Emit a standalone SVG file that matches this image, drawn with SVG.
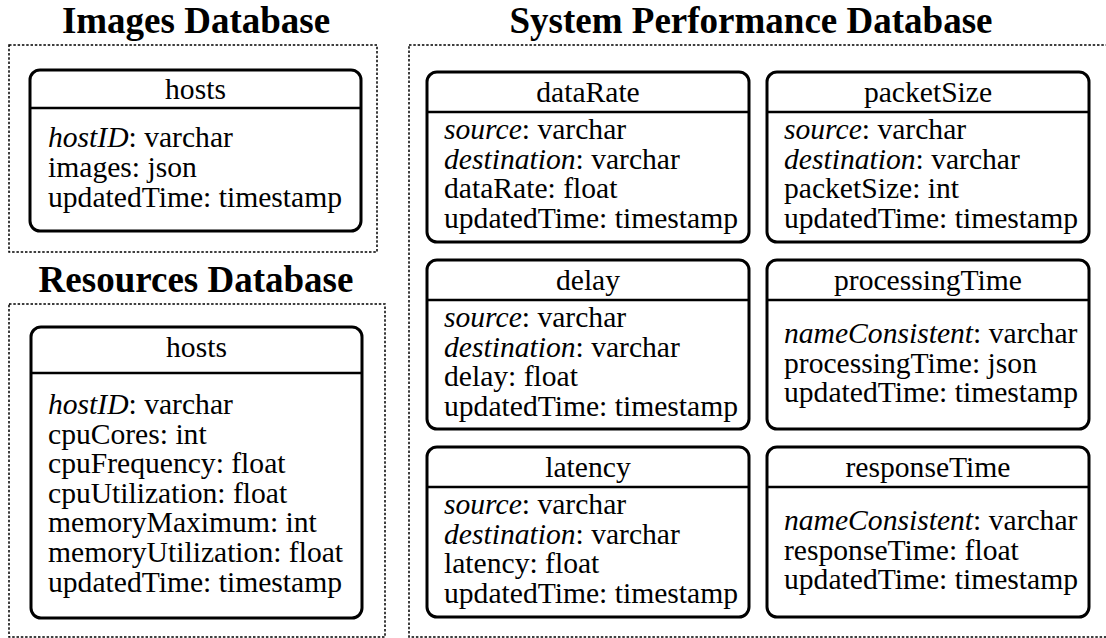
<svg xmlns="http://www.w3.org/2000/svg" width="1106" height="638" viewBox="0 0 1106 638">
  <style>
    .title { font-family: "Liberation Serif", "Times New Roman", serif; font-size: 37px; font-weight: bold; text-anchor: middle; fill: #000; }
    .head { font-family: "Liberation Serif", "Times New Roman", serif; font-size: 29.6px; text-anchor: middle; fill: #000; }
    .row { font-family: "Liberation Serif", "Times New Roman", serif; font-size: 29.6px; fill: #000; }
    .key { font-style: italic; }
    .db { fill: none; stroke: #000; stroke-width: 1.5; stroke-dasharray: 2.5 1.8; }
    .table { fill: #fff; stroke: #000; stroke-width: 3; }
    .divider { stroke: #000; stroke-width: 2.5; }
  </style>
  <rect width="1106" height="638" fill="#fff"/>

  <!-- database containers -->
  <g id="images-db">
    <text class="title" x="196" y="33">Images Database</text>
    <rect class="db" x="9" y="45" width="368" height="207"/>
  </g>
  <g id="resources-db">
    <text class="title" x="196" y="292">Resources Database</text>
    <rect class="db" x="9" y="304" width="376" height="333"/>
  </g>
  <g id="system-db">
    <text class="title" x="751" y="33">System Performance Database</text>
    <rect class="db" x="409" y="45" width="702" height="592"/>
  </g>

  <!-- tables -->
  <g id="images-hosts">
    <rect class="table" x="30" y="70" width="331" height="161" rx="10"/>
    <line class="divider" x1="30" y1="108" x2="361" y2="108"/>
    <text class="head" x="195.5" y="99">hosts</text>
    <text class="row" x="48" y="147"><tspan class="key">hostID</tspan>: varchar</text>
    <text class="row" x="48" y="177">images: json</text>
    <text class="row" x="48" y="207">updatedTime: timestamp</text>
  </g>

  <g id="resources-hosts">
    <rect class="table" x="31" y="327" width="331" height="291" rx="10"/>
    <line class="divider" x1="31" y1="373" x2="362" y2="373"/>
    <text class="head" x="196.5" y="357">hosts</text>
    <text class="row" x="48" y="414"><tspan class="key">hostID</tspan>: varchar</text>
    <text class="row" x="48" y="443.6">cpuCores: int</text>
    <text class="row" x="48" y="473.2">cpuFrequency: float</text>
    <text class="row" x="48" y="502.8">cpuUtilization: float</text>
    <text class="row" x="48" y="532.4">memoryMaximum: int</text>
    <text class="row" x="48" y="562">memoryUtilization: float</text>
    <text class="row" x="48" y="591.6">updatedTime: timestamp</text>
  </g>

  <g id="dataRate">
    <rect class="table" x="427" y="72" width="322" height="170" rx="10"/>
    <line class="divider" x1="427" y1="112" x2="749" y2="112"/>
    <text class="head" x="588" y="102">dataRate</text>
    <text class="row" x="444" y="139"><tspan class="key">source</tspan>: varchar</text>
    <text class="row" x="444" y="168.6"><tspan class="key">destination</tspan>: varchar</text>
    <text class="row" x="444" y="198.2">dataRate: float</text>
    <text class="row" x="444" y="227.8">updatedTime: timestamp</text>
  </g>

  <g id="packetSize">
    <rect class="table" x="767" y="72" width="322" height="170" rx="10"/>
    <line class="divider" x1="767" y1="112" x2="1089" y2="112"/>
    <text class="head" x="928" y="102">packetSize</text>
    <text class="row" x="784" y="139"><tspan class="key">source</tspan>: varchar</text>
    <text class="row" x="784" y="168.6"><tspan class="key">destination</tspan>: varchar</text>
    <text class="row" x="784" y="198.2">packetSize: int</text>
    <text class="row" x="784" y="227.8">updatedTime: timestamp</text>
  </g>

  <g id="delay">
    <rect class="table" x="427" y="260" width="322" height="169" rx="10"/>
    <line class="divider" x1="427" y1="300" x2="749" y2="300"/>
    <text class="head" x="588" y="290">delay</text>
    <text class="row" x="444" y="327"><tspan class="key">source</tspan>: varchar</text>
    <text class="row" x="444" y="356.6"><tspan class="key">destination</tspan>: varchar</text>
    <text class="row" x="444" y="386.2">delay: float</text>
    <text class="row" x="444" y="415.8">updatedTime: timestamp</text>
  </g>

  <g id="processingTime">
    <rect class="table" x="767" y="260" width="322" height="169" rx="10"/>
    <line class="divider" x1="767" y1="300" x2="1089" y2="300"/>
    <text class="head" x="928" y="290">processingTime</text>
    <text class="row" x="784" y="343"><tspan class="key">nameConsistent</tspan>: varchar</text>
    <text class="row" x="784" y="372.6">processingTime: json</text>
    <text class="row" x="784" y="402.2">updatedTime: timestamp</text>
  </g>

  <g id="latency">
    <rect class="table" x="427" y="447" width="322" height="170" rx="10"/>
    <line class="divider" x1="427" y1="487" x2="749" y2="487"/>
    <text class="head" x="588" y="477">latency</text>
    <text class="row" x="444" y="514"><tspan class="key">source</tspan>: varchar</text>
    <text class="row" x="444" y="543.6"><tspan class="key">destination</tspan>: varchar</text>
    <text class="row" x="444" y="573.2">latency: float</text>
    <text class="row" x="444" y="602.8">updatedTime: timestamp</text>
  </g>

  <g id="responseTime">
    <rect class="table" x="767" y="447" width="322" height="170" rx="10"/>
    <line class="divider" x1="767" y1="487" x2="1089" y2="487"/>
    <text class="head" x="928" y="477">responseTime</text>
    <text class="row" x="784" y="530"><tspan class="key">nameConsistent</tspan>: varchar</text>
    <text class="row" x="784" y="559.6">responseTime: float</text>
    <text class="row" x="784" y="589.2">updatedTime: timestamp</text>
  </g>

  <!-- no connectors between tables -->
  <g id="connectors"/>
</svg>
